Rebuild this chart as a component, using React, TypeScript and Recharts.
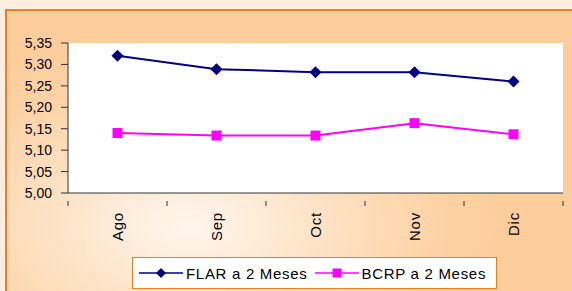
import { CartesianGrid, Line, LineChart, XAxis, YAxis } from "recharts";

const MONTHS = ["Ago", "Sep", "Oct", "Nov", "Dic"];
const FLAR = [5.32, 5.289, 5.282, 5.282, 5.26];
const BCRP = [5.14, 5.134, 5.134, 5.163, 5.137];
const Y_TICKS = [5.0, 5.05, 5.1, 5.15, 5.2, 5.25, 5.3, 5.35];
const SERIES = [
  { key: "flar", name: "FLAR a 2 Meses", color: "#000080", shape: "diamond" },
  { key: "bcrp", name: "BCRP a 2 Meses", color: "#ff00ff", shape: "square" },
];

const data = MONTHS.map((m, i) => ({ month: m, flar: FLAR[i], bcrp: BCRP[i] }));

const W = 572;
const H = 291;
const M = { top: 43, right: 9, bottom: 8, left: 8 };
const Y_WIDTH = 60;
const HALF_BAND = (W - M.left - Y_WIDTH - M.right) / MONTHS.length / 2;
const FONT = "'Liberation Sans', Arial, sans-serif";

const fmt = (v: number) => v.toFixed(2).replace(".", ",");

function Diamond(props: any) {
  const { cx, cy, fill } = props;
  if (cx == null || cy == null) return null;
  const r = 6;
  return (
    <path
      d={`M${cx},${cy - r}L${cx + r},${cy}L${cx},${cy + r}L${cx - r},${cy}Z`}
      fill={fill}
    />
  );
}

function Square(props: any) {
  const { cx, cy, fill } = props;
  if (cx == null || cy == null) return null;
  return <rect x={cx - 5} y={cy - 5} width={10} height={10} fill={fill} />;
}

function MonthTick(props: any) {
  const { x, y, payload } = props;
  return (
    <g>
      <line x1={x - HALF_BAND} y1={y} x2={x - HALF_BAND} y2={y + 5} stroke="#333" />
      {payload.index === MONTHS.length - 1 && (
        <line x1={x + HALF_BAND} y1={y} x2={x + HALF_BAND} y2={y + 5} stroke="#333" />
      )}
      <text
        x={x}
        y={y + 11}
        transform={`rotate(-90, ${x}, ${y + 11})`}
        textAnchor="end"
        dominantBaseline="central"
        fontSize={15}
        letterSpacing={0.8}
        fontFamily={FONT}
        fill="#000"
      >
        {payload.value}
      </text>
    </g>
  );
}

function LegendMark({ shape, color }: { shape: string; color: string }) {
  return (
    <svg width={44} height={12} style={{ display: "block", flexShrink: 0 }}>
      <line x1={0} y1={6} x2={44} y2={6} stroke={color} strokeWidth={1.5} />
      {shape === "diamond" ? (
        <path d="M22,1L27,6L22,11L17,6Z" fill={color} />
      ) : (
        <rect x={17.5} y={1.5} width={9} height={9} fill={color} />
      )}
    </svg>
  );
}

export default function App() {
  return (
    <div
      style={{
        position: "fixed",
        left: 0,
        top: 0,
        width: W,
        height: H,
        overflow: "hidden",
        background: "#fdeedf",
      }}
    >
      <div
        style={{
          position: "absolute",
          left: 5,
          top: 9,
          width: W + 10,
          height: H + 10,
          borderTop: "2px solid #f47b20",
          borderLeft: "2px solid #f47b20",
          background:
            "radial-gradient(ellipse 330px 200px at 180px 215px, #fff6ee 0%, #fee3c6 40%, #fdd1a2 80%, #fdcd9b 100%)",
        }}
      />
      <div style={{ position: "absolute", left: 0, top: 0 }}>
        <LineChart width={W} height={H} data={data} margin={M}>
          <CartesianGrid
            horizontal={false}
            vertical={false}
            fill="#ffffff"
            stroke="none"
          />
          <XAxis
            dataKey="month"
            scale="band"
            height={90}
            tickLine={false}
            axisLine={{ stroke: "#333" }}
            tick={<MonthTick />}
            interval={0}
          />
          <YAxis
            width={Y_WIDTH}
            domain={[5.0, 5.35]}
            ticks={Y_TICKS}
            tickFormatter={fmt}
            axisLine={{ stroke: "#333" }}
            tickLine={{ stroke: "#333" }}
            tickSize={7}
            tickMargin={9}
            tick={{ fontSize: 14, fill: "#000", fontFamily: FONT }}
            allowDataOverflow
          />
          <Line
            dataKey="flar"
            name={SERIES[0].name}
            stroke={SERIES[0].color}
            strokeWidth={2}
            dot={<Diamond fill={SERIES[0].color} />}
            isAnimationActive={false}
          />
          <Line
            dataKey="bcrp"
            name={SERIES[1].name}
            stroke={SERIES[1].color}
            strokeWidth={2}
            dot={<Square fill={SERIES[1].color} />}
            isAnimationActive={false}
          />
        </LineChart>
      </div>
      <div
        style={{
          position: "absolute",
          left: 132,
          top: 257,
          width: 365,
          height: 32,
          background: "#fff",
          border: "1px solid #f47b20",
          display: "flex",
          alignItems: "center",
          paddingLeft: 6,
          boxSizing: "border-box",
          fontFamily: FONT,
          fontSize: 15,
          letterSpacing: 0.7,
          color: "#000",
          whiteSpace: "nowrap",
        }}
      >
        {SERIES.map((s) => (
          <div
            key={s.key}
            style={{ display: "flex", alignItems: "center", marginRight: 7 }}
          >
            <LegendMark shape={s.shape} color={s.color} />
            <span style={{ marginLeft: 3 }}>{s.name}</span>
          </div>
        ))}
      </div>
    </div>
  );
}
